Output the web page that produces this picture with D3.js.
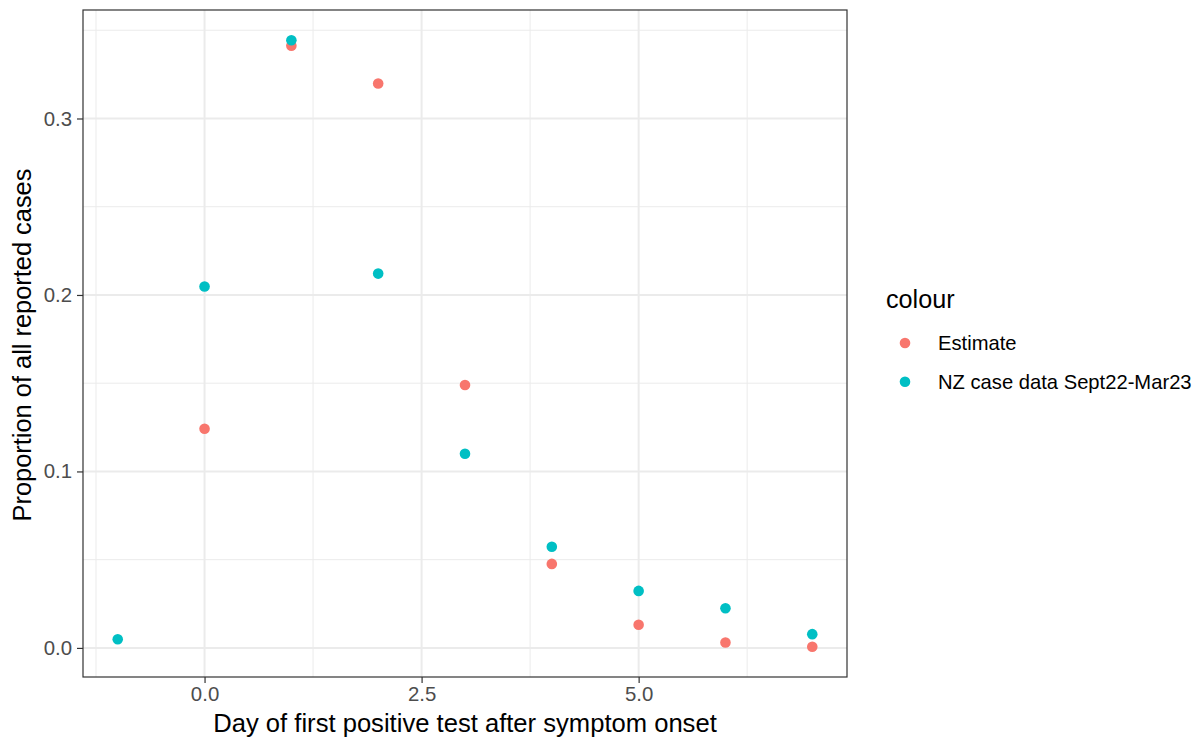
<!DOCTYPE html>
<html>
<head>
<meta charset="UTF-8">
<title>Day of first positive test</title>
<script src="https://cdn.jsdelivr.net/npm/d3@7"></script>
<style>
  body { margin: 0; background: #fff; }
  text { font-family: "Liberation Sans", Arial, Helvetica, sans-serif; }
</style>
</head>
<body>
<script>
// data
var seriesNames = ["Estimate", "NZ case data Sept22-Mar23"];
var seriesColors = ["#F8766D", "#00BFC4"];

var estimateDays = [0, 1, 2, 3, 4, 5, 6, 7];
var estimateValues = [0.1242, 0.3412, 0.3198, 0.1490, 0.0476, 0.0131, 0.0031, 0.0007];

var nzDays = [-1, 0, 1, 2, 3, 4, 5, 6, 7];
var nzValues = [0.0049, 0.2048, 0.3443, 0.2121, 0.1100, 0.0573, 0.0323, 0.0225, 0.0078];

var xMajor = [0, 2.5, 5];
var xMinor = [-1.25, 1.25, 3.75, 6.25];
var yMajor = [0, 0.1, 0.2, 0.3];
var yMinor = [0.05, 0.15, 0.25, 0.35];

var width = 1201, height = 738;
var panel = {left: 83, right: 847, top: 10, bottom: 677};

var svg = d3.select("body").append("svg")
  .attr("width", width)
  .attr("height", height);

// ggplot style 5% expansion
var allX = estimateDays.concat(nzDays),
    allY = estimateValues.concat(nzValues);
var xr = d3.extent(allX), yr = d3.extent(allY);
var xPad = (xr[1] - xr[0]) * 0.05, yPad = (yr[1] - yr[0]) * 0.05;

var x = d3.scaleLinear().domain([xr[0] - xPad, xr[1] + xPad]).range([panel.left, panel.right]);
var y = d3.scaleLinear().domain([yr[0] - yPad, yr[1] + yPad]).range([panel.bottom, panel.top]);

var grid = svg.append("g");
grid.selectAll(".xminor").data(xMinor).enter().append("line")
  .attr("x1", x).attr("x2", x).attr("y1", panel.top).attr("y2", panel.bottom)
  .attr("stroke", "#EBEBEB").attr("stroke-width", 1);
grid.selectAll(".yminor").data(yMinor).enter().append("line")
  .attr("y1", y).attr("y2", y).attr("x1", panel.left).attr("x2", panel.right)
  .attr("stroke", "#EBEBEB").attr("stroke-width", 1);
grid.selectAll(".xmajor").data(xMajor).enter().append("line")
  .attr("x1", x).attr("x2", x).attr("y1", panel.top).attr("y2", panel.bottom)
  .attr("stroke", "#EBEBEB").attr("stroke-width", 2);
grid.selectAll(".ymajor").data(yMajor).enter().append("line")
  .attr("y1", y).attr("y2", y).attr("x1", panel.left).attr("x2", panel.right)
  .attr("stroke", "#EBEBEB").attr("stroke-width", 2);

// points
var series = [
  {name: seriesNames[0], color: seriesColors[0], days: estimateDays, values: estimateValues},
  {name: seriesNames[1], color: seriesColors[1], days: nzDays, values: nzValues}
];
series.forEach(function (s) {
  svg.append("g").selectAll("circle")
    .data(s.days.map(function (d, i) { return [d, s.values[i]]; }))
    .enter().append("circle")
    .attr("cx", function (d) { return x(d[0]); })
    .attr("cy", function (d) { return y(d[1]); })
    .attr("r", 5.3)
    .attr("fill", s.color);
});

// panel border
svg.append("rect")
  .attr("x", panel.left).attr("y", panel.top)
  .attr("width", panel.right - panel.left).attr("height", panel.bottom - panel.top)
  .attr("fill", "none").attr("stroke", "#333333").attr("stroke-width", 1.2);

// axes
var xAxis = svg.append("g")
  .attr("transform", "translate(0," + panel.bottom + ")")
  .call(d3.axisBottom(x).tickValues(xMajor).tickFormat(d3.format(".1f")).tickSize(6).tickPadding(4));
var yAxis = svg.append("g")
  .attr("transform", "translate(" + panel.left + ",0)")
  .call(d3.axisLeft(y).tickValues(yMajor).tickFormat(d3.format(".1f")).tickSize(6).tickPadding(5));
[xAxis, yAxis].forEach(function (a) {
  a.select(".domain").remove();
  a.selectAll(".tick line").attr("stroke", "#333333").attr("stroke-width", 1.2);
  a.selectAll(".tick text").attr("fill", "#4D4D4D")
    .style("font-size", "20.4px")
    .style("font-family", "'Liberation Sans', Arial, sans-serif");
});

// axis titles
svg.append("text")
  .attr("x", (panel.left + panel.right) / 2).attr("y", 732)
  .attr("text-anchor", "middle")
  .style("font-size", "25.6px")
  .text("Day of first positive test after symptom onset");
svg.append("text")
  .attr("transform", "translate(31,345) rotate(-90)")
  .attr("text-anchor", "middle")
  .style("font-size", "25.4px")
  .text("Proportion of all reported cases");

// legend
var legend = svg.append("g");
legend.append("text")
  .attr("x", 886).attr("y", 308)
  .style("font-size", "25.2px")
  .text("colour");
var items = legend.selectAll(".item").data(series).enter().append("g")
  .attr("transform", function (d, i) { return "translate(0," + (343 + i * 38.7) + ")"; });
items.append("circle").attr("cx", 905).attr("cy", 0).attr("r", 5.3)
  .attr("fill", function (d) { return d.color; });
items.append("text").attr("x", 938).attr("y", 7)
  .style("font-size", "20.2px")
  .attr("fill", "#000")
  .text(function (d) { return d.name; });
</script>
</body>
</html>
